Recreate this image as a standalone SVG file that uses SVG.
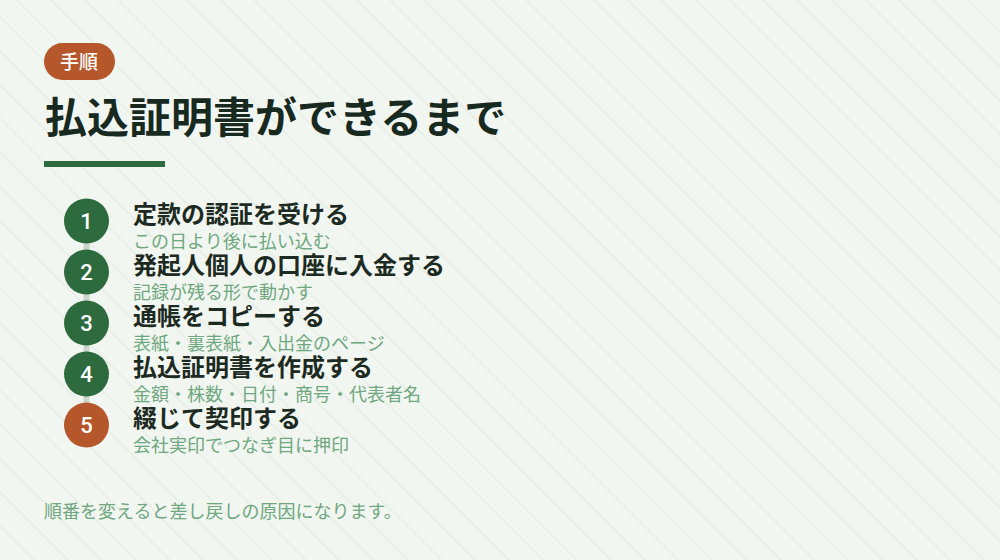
<svg xmlns="http://www.w3.org/2000/svg" width="1000" height="560" viewBox="0 0 1000 560">
  <defs>
    <pattern id="diag" patternUnits="userSpaceOnUse" width="24" height="24" patternTransform="rotate(-45)">
      <line x1="12" y1="0" x2="12" y2="24" stroke="#e0e7e0" stroke-width="1"/>
    </pattern>
    <style>
      text { font-family: "Noto Sans CJK JP", "Noto Sans", sans-serif; }
      .tag { fill: #ffffff; font-size: 19px; font-weight: 500; }
      .title { fill: #182a1f; font-size: 42px; font-weight: 700; }
      .num { fill: #ffffff; font-size: 22px; font-weight: 500; font-family: Roboto, "Noto Sans", sans-serif; }
      .head { fill: #1c2a21; font-size: 24px; font-weight: 700; }
      .sub { fill: #6fa77f; font-size: 18px; }
      .note { fill: #6fa77f; font-size: 18px; }
      .green { fill: #2d6a3e; }
      .orange { fill: #b5562b; }
    </style>
  </defs>
  <rect width="1000" height="560" fill="#f1f6f1"/>
  <rect width="1000" height="560" fill="url(#diag)"/>

  <g id="tag">
    <rect x="44" y="43" width="71" height="37" rx="18.5" class="orange"/>
    <text x="79" y="69" text-anchor="middle" class="tag">手順</text>
  </g>
  <g id="heading">
    <text x="45" y="133" class="title">払込証明書ができるまで</text>
    <rect x="44" y="161" width="121" height="6" class="green"/>
  </g>

  <g id="connectors">
    <line x1="86.5" y1="221" x2="86.5" y2="425" stroke="#c9d6c9" stroke-width="6"/>
  </g>

  <g id="step1">
    <circle cx="86.5" cy="221" r="22.5" class="green"/>
    <text x="86.5" y="228.5" text-anchor="middle" class="num">1</text>
    <text x="133" y="223" class="head">定款の認証を受ける</text>
    <text x="133" y="248" class="sub">この日より後に払い込む</text>
  </g>
  <g id="step2">
    <circle cx="86.5" cy="272" r="22.5" class="green"/>
    <text x="86.5" y="279.5" text-anchor="middle" class="num">2</text>
    <text x="133" y="274" class="head">発起人個人の口座に入金する</text>
    <text x="133" y="299" class="sub">記録が残る形で動かす</text>
  </g>
  <g id="step3">
    <circle cx="86.5" cy="323" r="22.5" class="green"/>
    <text x="86.5" y="330.5" text-anchor="middle" class="num">3</text>
    <text x="133" y="325" class="head">通帳をコピーする</text>
    <text x="133" y="350" class="sub">表紙・裏表紙・入出金のページ</text>
  </g>
  <g id="step4">
    <circle cx="86.5" cy="374" r="22.5" class="green"/>
    <text x="86.5" y="381.5" text-anchor="middle" class="num">4</text>
    <text x="133" y="376" class="head">払込証明書を作成する</text>
    <text x="133" y="401" class="sub">金額・株数・日付・商号・代表者名</text>
  </g>
  <g id="step5">
    <circle cx="86.5" cy="425" r="22.5" class="orange"/>
    <text x="86.5" y="432.5" text-anchor="middle" class="num">5</text>
    <text x="133" y="427" class="head">綴じて契印する</text>
    <text x="133" y="452" class="sub">会社実印でつなぎ目に押印</text>
  </g>

  <g id="note">
    <text x="44" y="518" class="note">順番を変えると差し戻しの原因になります。</text>
  </g>
</svg>
